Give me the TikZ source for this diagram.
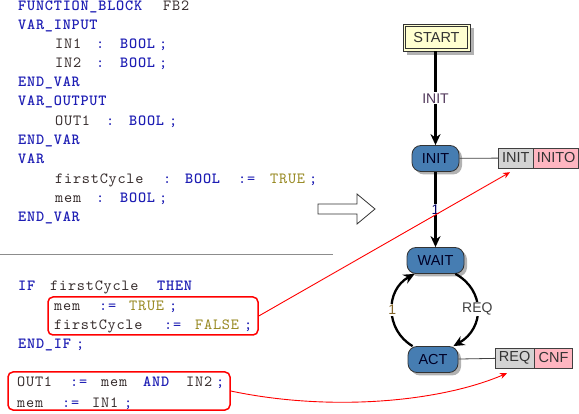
\documentclass[tikz,border=0pt]{standalone}
\usepackage{fontspec}
\setmainfont{Liberation Sans}
\newfontfamily\codefont[Extension=.otf, UprightFont=lmmono10-regular, BoldFont=lmmonolt10-bold, LetterSpace=5]{lmmono10-regular}
\usetikzlibrary{arrows.meta,shadows}
\definecolor{kwc}{RGB}{30,30,180}
\definecolor{idc}{RGB}{55,45,45}
\definecolor{litc}{RGB}{150,135,30}
\definecolor{statec}{RGB}{70,125,178}
\definecolor{startc}{RGB}{255,255,208}
\definecolor{evgray}{RGB}{211,211,211}
\definecolor{evpink}{RGB}{255,182,193}
\definecolor{lblc}{RGB}{80,55,90}
\definecolor{onec}{RGB}{130,100,40}
\newcommand{\kw}[1]{{\bfseries\color{kwc}#1}}
\newcommand{\op}[1]{{\color{kwc}#1}}
\newcommand{\lit}[1]{{\color{litc}#1}}
\newcommand{\tk}[2]{\makebox[#1pt][l]{#2}}
\begin{document}
\begin{tikzpicture}[x=1pt,y=-1pt,
  code/.style={anchor=base west,inner sep=0pt,text=idc,font=\codefont\fontsize{15.5}{15.5}\selectfont},
  state/.style={draw=black!80,fill=statec,rounded corners=9pt,minimum height=26pt,inner sep=0pt,
    font=\fontsize{14.5}{15}\selectfont,text=black!85!blue,thick,
    drop shadow={shadow xshift=3pt,shadow yshift=-3pt,fill=black!30,opacity=1}},
  evbox/.style={draw=black!75,minimum height=20pt,inner sep=0pt,anchor=west,font=\fontsize{14.5}{15}\selectfont,text=black!80},
  trans/.style={line width=2.3pt,-{Stealth[length=11pt,width=10pt]}},
  lbl/.style={fill=white,inner sep=1pt,font=\fontsize{14}{15}\selectfont},
  conn/.style={draw=black!75,line width=0.8pt},
  redbox/.style={draw=red,line width=1.5pt,rounded corners=5pt,inner sep=0pt},
  redarr/.style={red,line width=0.9pt,-{Stealth[length=7pt,width=6pt]}}]
\useasboundingbox (0,0) rectangle (579,414);
% code, upper part
\node[code] (c1) at (18,11) {\tk{145}{\kw{FUNCTION\_BLOCK}}FB2};
\node[code] (c2) at (18,30) {\kw{VAR\_INPUT}};
\node[code] (c3) at (55,49) {\tk{41}{IN1}\tk{24}{\op{:}}\tk{39}{\kw{BOOL}}\op{;}};
\node[code] (c4) at (55,68) {\tk{41}{IN2}\tk{24}{\op{:}}\tk{39}{\kw{BOOL}}\op{;}};
\node[code] (c5) at (18,87) {\kw{END\_VAR}};
\node[code] (c6) at (18,106) {\kw{VAR\_OUTPUT}};
\node[code] (c7) at (55,126) {\tk{51}{OUT1}\tk{23}{\op{:}}\tk{40}{\kw{BOOL}}\op{;}};
\node[code] (c8) at (18,145) {\kw{END\_VAR}};
\node[code] (c9) at (18,164) {\kw{VAR}};
\node[code] (c10) at (55,184) {\tk{108}{firstCycle}\tk{22}{\op{:}}\tk{53}{\kw{BOOL}}\tk{32}{\op{:=}}\tk{39}{\lit{TRUE}}\op{;}};
\node[code] (c11) at (55,203) {\tk{41}{mem}\tk{24}{\op{:}}\tk{39}{\kw{BOOL}}\op{;}};
\node[code] (c12) at (18,222) {\kw{END\_VAR}};
% separator
\coordinate (sepA) at (0,254);
\coordinate (sepB) at (333,254);
\draw[black!45,line width=0.9pt] (sepA) -- (sepB);
% code, lower part
\node[code] (d1) at (18,291) {\tk{32}{\kw{IF}}\tk{107}{firstCycle}\kw{THEN}};
\node[code] (d2) at (54,311) {\tk{45}{mem}\tk{30}{\op{:=}}\tk{40}{\lit{TRUE}}\op{;}};
\node[code] (d3) at (54,330) {\tk{110}{firstCycle}\tk{31}{\op{:=}}\tk{49}{\lit{FALSE}}\op{;}};
\node[code] (d4) at (18,349) {\tk{58}{\kw{END\_IF}}\op{;}};
\node[code] (d5) at (17,387) {\tk{53}{OUT1}\tk{31}{\op{:=}}\tk{42}{mem}\tk{43}{\kw{AND}}\tk{30}{IN2}\op{;}};
\node[code] (d6) at (17,407) {\tk{45}{mem}\tk{30}{\op{:=}}\tk{32}{IN1}\op{;}};
% red boxes
\node[redbox,minimum width=210pt,minimum height=38pt] (rb1) at (153,316) {};
\node[redbox,minimum width=222pt,minimum height=38pt] (rb2) at (119,391) {};
% hollow arrow
\draw[black!80,fill=white,line width=0.8pt] (318,204) -- (357,204) -- (357,194) -- (375,209) -- (357,224) -- (357,214) -- (318,214) -- cycle;
% state machine
\node[draw=black!80,thick,fill=startc,minimum width=67pt,minimum height=27pt,inner sep=0pt,
  font=\fontsize{14.5}{15}\selectfont,text=black!80,
  drop shadow={shadow xshift=4pt,shadow yshift=-4pt,fill=black!30,opacity=1}] (start) at (436.5,37.5) {START};
\draw[black!80,line width=0.8pt] ([shift={(3,3)}]start.north west) rectangle ([shift={(-3,-3)}]start.south east);
\node[state,minimum width=47pt] (init) at (435.5,158.5) {INIT};
\node[state,minimum width=57pt] (wait) at (435.5,260.5) {WAIT};
\node[state,minimum width=50pt] (act) at (433,359.5) {ACT};
\draw[trans] (start.south -| init) -- node[lbl,text=lblc]{INIT} (init);
\draw[trans] (init) -- node[lbl,text=black!60!blue,inner sep=0.3pt]{1} (wait);
\draw[trans] ([xshift=5]act.north west) .. controls (385,330) and (385,290) .. ([xshift=8]wait.south west)
  node[pos=0.5,lbl,text=onec]{1};
\draw[trans] ([xshift=-9]wait.south east) .. controls (485,290) and (485,328) .. ([xshift=-5]act.north east)
  node[pos=0.5,lbl,text=black!75]{REQ};
% event boxes
\node[evbox,fill=evgray,minimum width=35pt] (ie1) at (498,158) {INIT};
\node[evbox,fill=evpink,minimum width=45pt] (ie2) at (ie1.east) {INITO};
\node[evbox,fill=evgray,minimum width=39pt] (re1) at (495,358) {REQ};
\node[evbox,fill=evpink,minimum width=38pt] (re2) at (re1.east) {CNF};
\draw[conn] (init) -- (ie1);
\draw[conn] (act) -- (re1);
% red links
\draw[redarr] (rb1.east) -- ([shift={(12,4)}]ie1.south west);
\draw[redarr] (rb2.east) .. controls (330,412) and (440,402) .. ([shift={(12,5)}]re1.south west);
\end{tikzpicture}
\end{document}
